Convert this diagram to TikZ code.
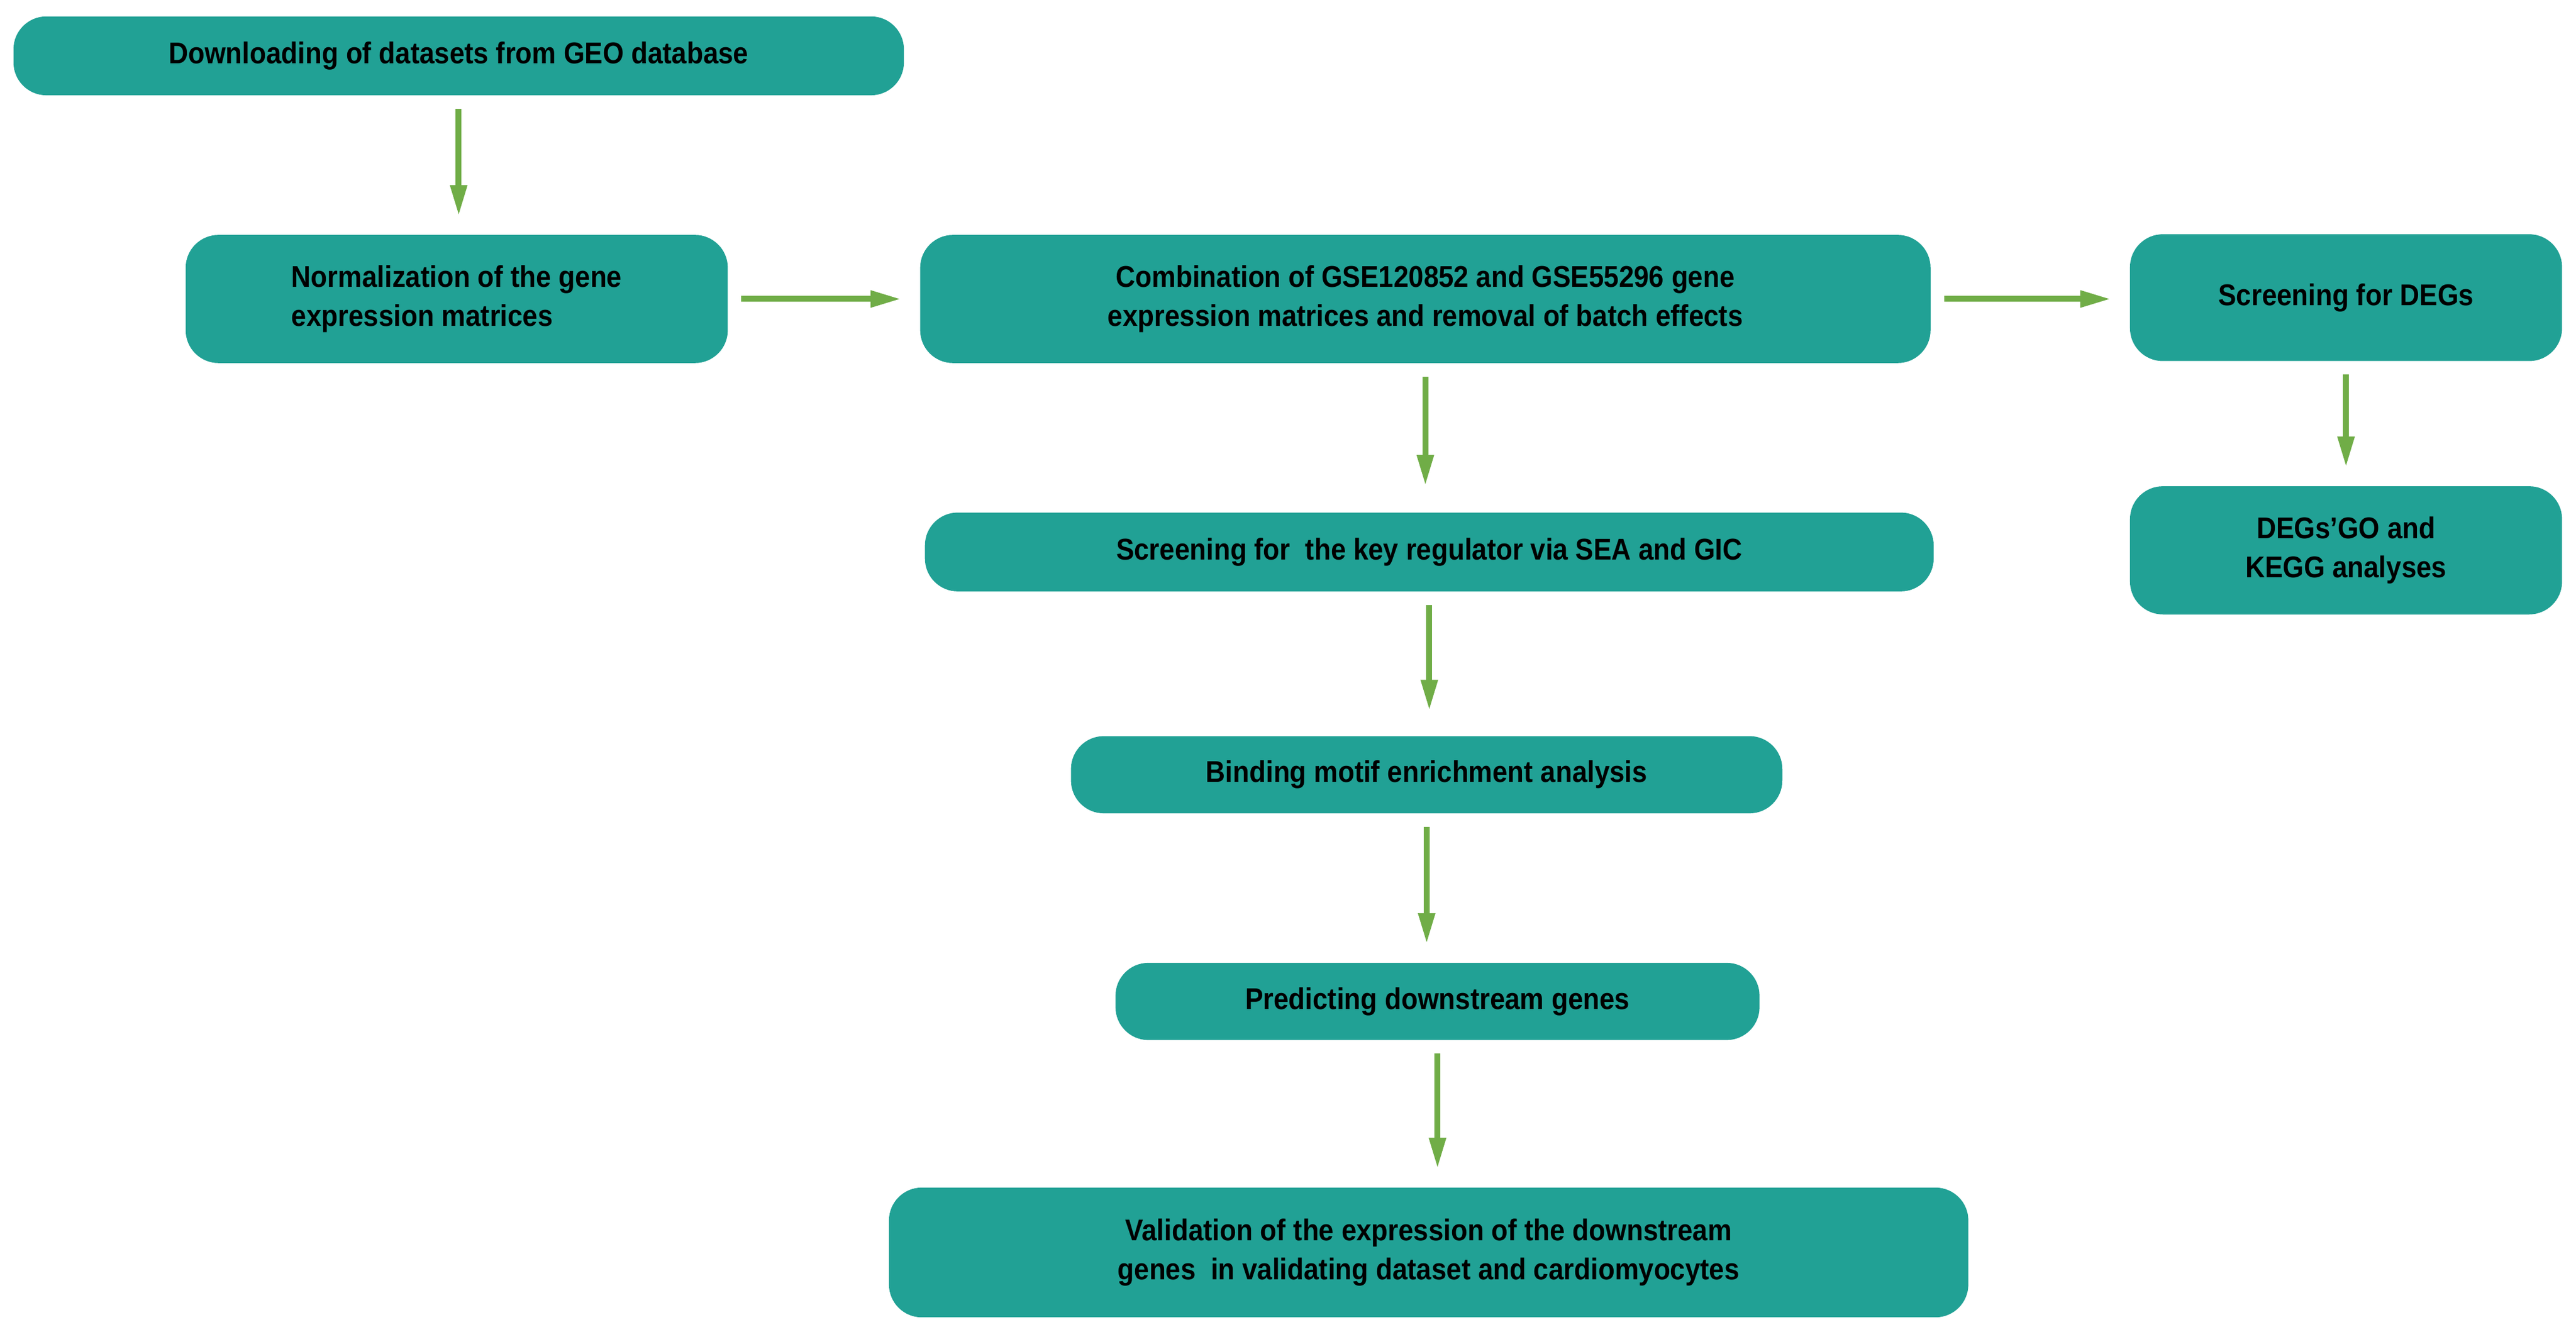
\documentclass[tikz,border=0pt]{standalone}
\usepackage{fontspec}
\setmainfont{Liberation Sans}[FakeStretch=0.9]
\usetikzlibrary{arrows.meta,positioning}
\definecolor{boxteal}{HTML}{21A195}
\definecolor{arrowgreen}{HTML}{70AD47}
\tikzset{
  stage/.style={fill=boxteal, rounded corners=0.5cm, align=center,
    font=\fontsize{13}{17}\selectfont\bfseries, inner sep=0pt},
  flow/.style={draw=arrowgreen, line width=0.09cm,
    -{Triangle[width=0.24cm,length=0.47cm]}, shorten <=0.2cm, shorten >=0.28cm}
}
\begin{document}
\begin{tikzpicture}
  \useasboundingbox (0,0) rectangle (39.2,-20.27);

  % boxes
  \node[stage, minimum width=13.55cm, minimum height=1.2cm] (geo) at (6.98,-0.85)
    {Downloading of datasets from GEO database};
  \node[stage, minimum width=8.25cm, minimum height=1.95cm, align=left] (norm) at (6.95,-4.55)
    {Normalization of the gene\\expression matrices};
  \node[stage, minimum width=15.375cm, minimum height=1.95cm] (comb) at (21.69,-4.55)
    {Combination of GSE120852 and GSE55296 gene\\expression matrices and removal of batch effects};
  \node[stage, minimum width=6.575cm, minimum height=1.93cm] (degs) at (35.7,-4.53)
    {Screening for DEGs};
  \node[stage, minimum width=6.575cm, minimum height=1.95cm] (gokegg) at (35.7,-8.375)
    {DEGs’GO and\\KEGG analyses};
  \node[stage, minimum width=15.35cm, minimum height=1.2cm] (regul) at (21.75,-8.4)
    {Screening for\ \ the key regulator via SEA and GIC};
  \node[stage, minimum width=10.825cm, minimum height=1.175cm] (motif) at (21.71,-11.79)
    {Binding motif enrichment analysis};
  \node[stage, minimum width=9.8cm, minimum height=1.175cm] (down) at (21.875,-15.24)
    {Predicting downstream genes};
  \node[stage, minimum width=16.425cm, minimum height=1.975cm] (valid) at (21.74,-19.06)
    {Validation of the expression of the downstream\\genes\ \ in validating dataset and cardiomyocytes};

  % arrows
  \draw[flow] (geo.south) -- (geo.south |- norm.north);
  \draw[flow] (norm.east) -- (norm.east -| comb.west);
  \draw[flow] (comb.east) -- (comb.east -| degs.west);
  \draw[flow] (degs.south) -- (degs.south |- gokegg.north);
  \draw[flow, shorten >=0.4cm] (comb.south) -- (comb.south |- regul.north);
  \draw[flow, shorten >=0.38cm] (regul.south) -- (regul.south |- motif.north);
  \draw[flow] (motif.south) -- (motif.south |- down.north);
  \draw[flow] (down.south) -- (down.south |- valid.north);
\end{tikzpicture}
\end{document}
